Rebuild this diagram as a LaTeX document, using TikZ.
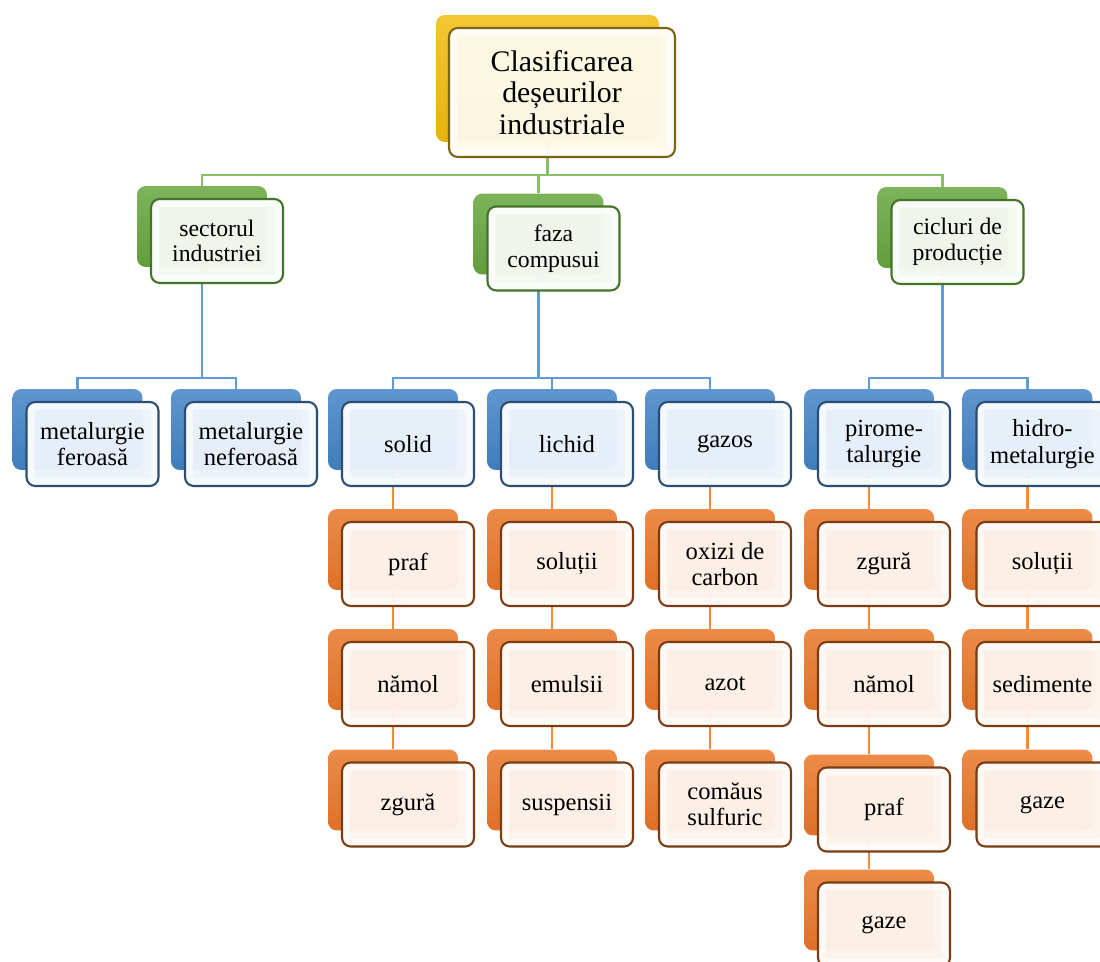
\documentclass[tikz,border=0pt]{standalone}
\usepackage{fontspec}
\setmainfont{Liberation Serif}
\usetikzlibrary{backgrounds}
\definecolor{ybk}{HTML}{F0BC0E}
\definecolor{yfc}{HTML}{FCF9E8}
\definecolor{ybd}{HTML}{7C6414}
\definecolor{gbk}{HTML}{66A63E}
\definecolor{gfc}{HTML}{F4F8F1}
\definecolor{gbd}{HTML}{44742A}
\definecolor{gline}{HTML}{88C063}
\definecolor{bbk}{HTML}{4383C6}
\definecolor{bfc}{HTML}{ECF3FB}
\definecolor{bbd}{HTML}{2A4E73}
\definecolor{bline}{HTML}{5D9CD6}
\definecolor{obk}{HTML}{EA7629}
\definecolor{ofc}{HTML}{FDF3EC}
\definecolor{obd}{HTML}{7A3C12}
\definecolor{oline}{HTML}{F28A3E}

\begin{document}
\begin{tikzpicture}[x=0.02cm,y=-0.02cm,
  every node/.style={font=\fontsize{14}{15}\selectfont, align=center},
  back/.style={top color=#1!85!white, bottom color=#1!95!black, rounded corners=5pt,
    minimum width=2.6cm, minimum height=1.62cm, inner sep=0pt},
  face/.style 2 args={draw=#1, fill=#2, fill opacity=.97, text opacity=1,
    line width=1.2pt, rounded corners=5pt, minimum width=2.64cm,
    minimum height=1.68cm, inner sep=1pt,
    path picture={\draw[white,line width=9pt,opacity=.6]
      (path picture bounding box.south west) rectangle (path picture bounding box.north east);}},
  tback/.style={back=ybk, minimum width=4.46cm, minimum height=2.54cm},
  tface/.style={face={ybd}{yfc}, minimum width=4.52cm, minimum height=2.58cm,
    font=\fontsize{17}{18}\selectfont},
  gback/.style={back=gbk},
  gface/.style={face={gbd}{gfc}, font=\fontsize{13.5}{14.5}\selectfont},
  bback/.style={back=bbk},
  bface/.style={face={bbd}{bfc}},
  oback/.style={back=obk},
  oface/.style={face={obd}{ofc}},
  link/.style={line width=1.5pt, draw=#1}
]
\useasboundingbox (0,0) rectangle (1100,962);

% root
\node[tback] (top) at (547.5,78.5) {};
\node[tface] (topf) at (562,92.5) {Clasificarea\\deșeurilor\\industriale};

% criteria
\node[gback] (sec) at (202,226.5) {};
\node[gface] (secf) at (217,241) {sectorul\\industriei};
\node[gback] (faz) at (538.5,234) {};
\node[gface] (fazf) at (553.5,248.5) {faza\\compusui};
\node[gback] (cic) at (942.5,227.5) {};
\node[gface] (cicf) at (957.5,242) {cicluri de\\producție};

% second level
\node[bback] (fer) at (77.5,429.5) {};
\node[bface] (ferf) at (92.5,444) {metalurgie\\feroasă};
\node[bback] (nef) at (236,429.5) {};
\node[bface] (neff) at (251,444) {metalurgie\\neferoasă};
\node[bback] (sol) at (393,429.5) {};
\node[bface] (solf) at (408,444) {solid};
\node[bback] (lic) at (552,429.5) {};
\node[bface] (licf) at (567,444) {lichid};
\node[bback] (gaz) at (710,429.5) {};
\node[bface] (gazf) at (725,444) {gazos};
\node[bback] (pir) at (869,429.5) {};
\node[bface] (pirf) at (884,444) {pirome-\\talurgie};
\node[bback] (hid) at (1027.5,429.5) {};
\node[bface] (hidf) at (1042.5,444) {hidro-\\metalurgie};

% solid
\node[oback] (s1) at (393,549.5) {};
\node[oface] (s1f) at (408,564) {praf};
\node[oback] (s2) at (393,669.5) {};
\node[oface] (s2f) at (408,684) {nămol};
\node[oback] (s3) at (393,790) {};
\node[oface] (s3f) at (408,804.5) {zgură};
% lichid
\node[oback] (l1) at (552,549.5) {};
\node[oface] (l1f) at (567,564) {soluții};
\node[oback] (l2) at (552,669.5) {};
\node[oface] (l2f) at (567,684) {emulsii};
\node[oback] (l3) at (552,790) {};
\node[oface] (l3f) at (567,804.5) {suspensii};
% gazos
\node[oback] (g1) at (710,549.5) {};
\node[oface] (g1f) at (725,564) {oxizi de\\carbon};
\node[oback] (g2) at (710,669.5) {};
\node[oface] (g2f) at (725,684) {azot};
\node[oback] (g3) at (710,790) {};
\node[oface] (g3f) at (725,804.5) {comăus\\sulfuric};
% pirometalurgie
\node[oback] (p1) at (869,549.5) {};
\node[oface] (p1f) at (884,564) {zgură};
\node[oback] (p2) at (869,669.5) {};
\node[oface] (p2f) at (884,684) {nămol};
\node[oback] (p3) at (869,795) {};
\node[oface] (p3f) at (884,809.5) {praf};
\node[oback] (p4) at (869,910) {};
\node[oface] (p4f) at (884,924.5) {gaze};
% hidrometalurgie
\node[oback] (h1) at (1027.5,549.5) {};
\node[oface] (h1f) at (1042.5,564) {soluții};
\node[oback] (h2) at (1027.5,669.5) {};
\node[oface] (h2f) at (1042.5,684) {sedimente};
\node[oback] (h3) at (1027.5,790) {};
\node[oface] (h3f) at (1042.5,804.5) {gaze};

% connectors
\coordinate (gbus) at (0,175);
\coordinate (bbus) at (0,378);
\begin{scope}[on background layer]
 \foreach \c in {sec,faz,cic}
   \draw[link=gline] (top) |- (gbus -| \c) -- (\c);
 \foreach \p/\c in {sec/fer,sec/nef,faz/sol,faz/lic,faz/gaz,cic/pir,cic/hid}
   \draw[link=bline] (\p) |- (bbus -| \c) -- (\c);
 \foreach \p/\c in {sol/s1,s1/s2,s2/s3,lic/l1,l1/l2,l2/l3,gaz/g1,g1/g2,g2/g3,
                    pir/p1,p1/p2,p2/p3,p3/p4,hid/h1,h1/h2,h2/h3}
   \draw[link=oline] (\p) -- (\c);
\end{scope}
\end{tikzpicture}
\end{document}
